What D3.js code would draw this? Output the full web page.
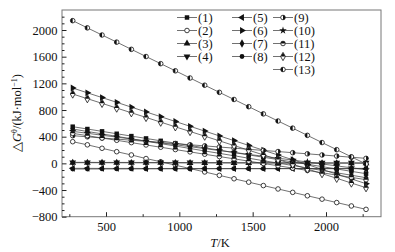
<!DOCTYPE html>
<html>
<head>
<meta charset="utf-8">
<script src="https://cdn.jsdelivr.net/npm/d3@7"></script>
<style>
  body { margin: 0; background: #fff; }
  text { font-family: "Liberation Serif", "Times New Roman", serif; fill: #111; }
</style>
</head>
<body>
<svg id="chart" width="395" height="252"></svg>
<script>
// temperatures (K)
const temps = [273, 373, 473, 573, 673, 773, 873, 973, 1073, 1173, 1273, 1373, 1473, 1573, 1673, 1773, 1873, 1973, 2073, 2173, 2273];

// ΔG values (kJ/mol)
const s1  = [550, 515, 480, 444, 409, 374, 338, 303, 268, 233, 198, 162, 127, 92, 56, 21, -14, -49, -84, -120, -155];
const s2  = [325, 278, 226, 175, 126, 72, 24, -27, -78, -129, -180, -231, -282, -333, -384, -435, -486, -537, -588, -639, -690];
const s3  = [10, 10, 9, 9, 8, 8, 7, 7, 6, 6, 5, 5, 4, 4, 3, 3, 2, 2, 1, 1, 0];
const s4  = [15, 15, 14, 14, 14, 13, 13, 13, 12, 12, 12, 11, 11, 11, 10, 10, 10, 9, 9, 9, 8];
const s5  = [-75, -75, -76, -76, -76, -77, -77, -77, -78, -78, -78, -78, -79, -79, -79, -79, -80, -80, -80, -80, -80];
const s6  = [1130, 1058, 987, 915, 843, 771, 700, 628, 556, 484, 412, 341, 269, 197, 125, 54, -18, -90, -162, -233, -305];
const s7  = [515, 478, 442, 405, 369, 332, 296, 260, 223, 186, 150, 114, 77, 40, 4, -32, -69, -106, -142, -178, -215];
const s8  = [-85, -85, -84, -84, -83, -83, -82, -82, -81, -81, -80, -80, -79, -79, -78, -78, -77, -77, -76, -76, -75];
const s9  = [415, 398, 381, 364, 347, 330, 313, 296, 279, 262, 245, 228, 211, 194, 177, 160, 143, 126, 109, 92, 75];
const s10 = [480, 451, 422, 394, 365, 336, 308, 279, 250, 221, 192, 164, 135, 106, 78, 49, 20, -9, -38, -66, -95];
const s11 = [450, 415, 380, 346, 311, 276, 242, 207, 172, 137, 102, 68, 33, -2, -36, -71, -106, -141, -176, -210, -245];
const s12 = [1040, 970, 900, 829, 759, 689, 618, 548, 478, 408, 338, 267, 197, 127, 57, -14, -84, -154, -224, -295, -365];
const s13 = [2140, 2032, 1925, 1818, 1710, 1602, 1495, 1388, 1280, 1172, 1065, 958, 850, 742, 635, 528, 420, 312, 205, 98, -10];

const names = ["(1)", "(2)", "(3)", "(4)", "(5)", "(6)", "(7)", "(8)", "(9)", "(10)", "(11)", "(12)", "(13)"];
const markers = ["square", "circle", "triUp", "triDown", "triLeft", "triRight", "diamond", "dot", "halfRight", "star", "halfTop", "halfDiamond", "halfLeft"];
const xTicks = [500, 1000, 1500, 2000];
const yTicks = [-800, -400, 0, 400, 800, 1200, 1600, 2000];

const allSeries = [s1, s2, s3, s4, s5, s6, s7, s8, s9, s10, s11, s12, s13]
    .map((vals, i) => ({ name: names[i], marker: markers[i], values: vals }));

const svg = d3.select("#chart");
const m = { left: 62, right: 381, top: 10, bottom: 216.7 };

const x = d3.scaleLinear().domain([200, 2375]).range([m.left, m.right]);
const y = d3.scaleLinear().domain([-800, 2300]).range([m.bottom, m.top]);

// frame
svg.append("rect")
    .attr("x", m.left).attr("y", m.top)
    .attr("width", m.right - m.left).attr("height", m.bottom - m.top)
    .attr("fill", "none").attr("stroke", "#777").attr("stroke-width", 1);

// ticks (minor first, then major with labels)
const xAxis = svg.append("g").attr("transform", `translate(0,${m.bottom})`);
xAxis.append("g").call(d3.axisBottom(x).tickValues([250, 750, 1250, 1750, 2250]).tickSize(-2.5).tickFormat(""));
xAxis.append("g").call(d3.axisBottom(x).tickValues(xTicks).tickSizeInner(-4.5).tickSizeOuter(0).tickPadding(5).tickFormat(d3.format("d")));

const yAxis = svg.append("g").attr("transform", `translate(${m.left},0)`);
yAxis.append("g").call(d3.axisLeft(y).tickValues(d3.range(-700, 2300, 100).filter(v => v % 400 !== 0)).tickSize(-2.5).tickFormat(""));
yAxis.append("g").call(d3.axisLeft(y).tickValues(yTicks).tickSizeInner(-4.5).tickSizeOuter(0).tickPadding(4.5)
    .tickFormat(d => d < 0 ? "\u2212" + Math.abs(d) : d));

svg.selectAll(".domain").remove();
svg.selectAll(".tick line").attr("stroke", "#222");
svg.selectAll(".tick text").style("font-size", "12.5px").attr("fill", "#111");

// axis titles
const xt = svg.append("text")
    .attr("x", 220).attr("y", 247)
    .attr("text-anchor", "middle")
    .style("font-size", "12.5px");
xt.append("tspan").style("font-style", "italic").text("T");
xt.append("tspan").text("/K");

const yt = svg.append("text")
    .attr("transform", "translate(21,113) rotate(-90)")
    .attr("text-anchor", "middle")
    .style("font-size", "12.5px");
yt.append("tspan").text("\u25B3");
yt.append("tspan").style("font-style", "italic").text("G");
yt.append("tspan").attr("dy", -4).style("font-size", "8px").text("\u03B8");
yt.append("tspan").attr("dy", 4).text("/(kJ\u00B7mol");
yt.append("tspan").attr("dy", -4).style("font-size", "8px").text("\u22121");
yt.append("tspan").attr("dy", 4).text(")");

// marker drawing
function drawMarker(g, type) {
    const sym = (t, size, rot) => g.append("path")
        .attr("d", d3.symbol().type(t).size(size)())
        .attr("transform", rot ? `rotate(${rot})` : null)
        .attr("fill", "#111");
    const r = 2.3;
    if (type === "square") sym(d3.symbolSquare, 20);
    else if (type === "triUp") sym(d3.symbolTriangle, 20);
    else if (type === "triDown") sym(d3.symbolTriangle, 20, 180);
    else if (type === "triLeft") sym(d3.symbolTriangle, 20, -90);
    else if (type === "triRight") sym(d3.symbolTriangle, 20, 90);
    else if (type === "diamond") sym(d3.symbolDiamond, 20);
    else if (type === "dot") sym(d3.symbolCircle, 18);
    else if (type === "star") sym(d3.symbolStar, 18);
    else if (type === "circle") {
        g.append("circle").attr("r", r).attr("fill", "#fff").attr("stroke", "#111").attr("stroke-width", 0.8);
    } else if (type === "halfDiamond") {
        g.append("path").attr("d", d3.symbol().type(d3.symbolDiamond).size(20)())
            .attr("fill", "#fff").attr("stroke", "#111").attr("stroke-width", 0.8);
        g.append("path").attr("d", "M-2.4,0L0,-3.5L2.4,0Z").attr("fill", "#111");
    } else {
        g.append("circle").attr("r", r).attr("fill", "#fff").attr("stroke", "#111").attr("stroke-width", 0.8);
        let d;
        if (type === "halfRight") d = `M0,${-r}A${r},${r} 0 0 1 0,${r}Z`;
        else if (type === "halfLeft") d = `M0,${-r}A${r},${r} 0 0 0 0,${r}Z`;
        else d = `M${-r},0A${r},${r} 0 0 1 ${r},0Z`;
        g.append("path").attr("d", d).attr("fill", "#111");
    }
}

// lines and points
const line = d3.line().x((d, i) => x(temps[i])).y(d => y(d));
const plot = svg.append("g");
allSeries.forEach(s => {
    plot.append("path")
        .attr("d", line(s.values))
        .attr("fill", "none")
        .attr("stroke", "#333")
        .attr("stroke-width", 0.7);
    s.values.forEach((v, i) => {
        const g = plot.append("g").attr("transform", `translate(${x(temps[i])},${y(v)})`);
        drawMarker(g, s.marker);
    });
});

// legend
const legCols = [{ x: 177, items: [0, 1, 2, 3] }, { x: 232, items: [4, 5, 6, 7] }, { x: 273, items: [8, 9, 10, 11, 12] }];
const legend = svg.append("g");
legCols.forEach(col => {
    col.items.forEach((k, j) => {
        const yy = 17.5 + j * 13;
        legend.append("line")
            .attr("x1", col.x).attr("x2", col.x + 20)
            .attr("y1", yy).attr("y2", yy)
            .attr("stroke", "#333").attr("stroke-width", 0.7);
        const g = legend.append("g").attr("transform", `translate(${col.x + 10},${yy})`);
        drawMarker(g, allSeries[k].marker);
        legend.append("text")
            .attr("x", col.x + 21).attr("y", yy)
            .attr("dy", "0.35em")
            .style("font-size", "12.5px")
            .text(allSeries[k].name);
    });
});
</script>
</body>
</html>
